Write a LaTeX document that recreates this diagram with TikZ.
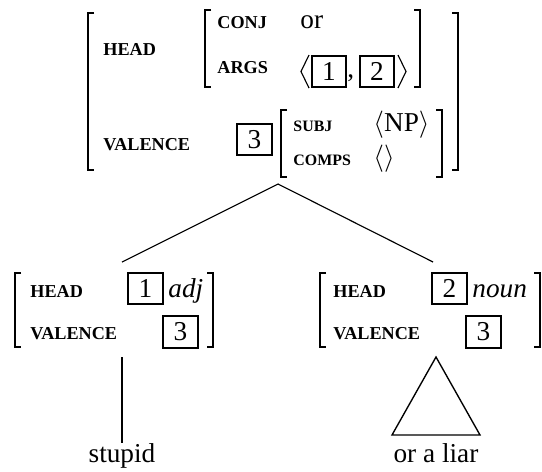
\documentclass[tikz,border=0pt]{standalone}
\usepackage{fontspec}
\setmainfont{Liberation Serif}

\tikzset{
  feat/.style={font=\fontsize{8}{9}\selectfont\bfseries, anchor=base west, inner sep=0pt},
  smallfeat/.style={font=\fontsize{7}{8}\selectfont\bfseries, anchor=base west, inner sep=0pt},
  word/.style={font=\fontsize{12}{14}\selectfont, anchor=base west, inner sep=0pt},
  tag/.style={draw, line width=0.9pt, minimum width=15pt, minimum height=14pt, inner sep=0pt, font=\fontsize{12}{14}\selectfont},
  brk/.style={line width=0.7pt}
}

\begin{document}
\begin{tikzpicture}[x=0.44pt,y=-0.44pt]
\useasboundingbox (0,0) rectangle (542,471);
%\draw[step=20,gray,very thin] (0,0) grid (542,471); %background grid

% mother
\draw[brk] (94,13) -- (88,13) -- (88,170) -- (94,170);
\draw[brk] (452,13) -- (458,13) -- (458,170) -- (452,170);
\node[feat] (headM) at (103,55) {HEAD};
\node[feat] (valM) at (103,150) {VALENCE};
\draw[brk] (211,10) -- (205,10) -- (205,87) -- (211,87);
\draw[brk] (414,10) -- (420,10) -- (420,87) -- (414,87);
\node[feat] (conj) at (217,28) {CONJ};
\node[word] (or) at (300,28) {or};
\node[feat] (args) at (217,73) {ARGS};
\draw[line width=0.5pt] (309,55) -- (301,71.5) -- (309,88);
\node[tag] (argA) at (329,71.5) {1};
\node[word] (comma) at (347,77) {,};
\node[tag] (argB) at (377,71.5) {2};
\draw[line width=0.5pt] (398,55) -- (406,71.5) -- (398,88);
\node[tag] (valTag) at (254.5,139.5) {3};
\draw[brk] (287,110) -- (281,110) -- (281,177) -- (287,177);
\draw[brk] (436,110) -- (442,110) -- (442,177) -- (436,177);
\node[smallfeat] (subj) at (293,131) {SUBJ};
\node[word] (np) at (373,131) {$\langle$NP$\rangle$};
\node[smallfeat] (comps) at (293,165) {COMPS};
\node[word] (empty) at (373,165) {$\langle\rangle$};

% branches
\coordinate (mother) at (278,184);
\coordinate (dtrA) at (122,262);
\coordinate (dtrB) at (433,262);
\draw[line width=0.5pt] (dtrA) -- (mother) -- (dtrB);

% left daughter
\draw[brk] (21,273) -- (15,273) -- (15,347) -- (21,347);
\draw[brk] (207,273) -- (213,273) -- (213,347) -- (207,347);
\node[feat] (headA) at (30,297) {HEAD};
\node[tag] (tagA) at (145.5,288.5) {1};
\node[word] (adj) at (168,297) {\textit{adj}};
\node[feat] (valA) at (30,339) {VALENCE};
\node[tag] (valTagA) at (180.5,332) {3};
\coordinate (lexA) at (122,357);
\node[word, anchor=base] (stupid) at (122,462) {stupid};
\draw[line width=0.9pt] (lexA) -- (stupid.north);

% right daughter
\draw[brk] (326,273) -- (320,273) -- (320,347) -- (326,347);
\draw[brk] (534,273) -- (540,273) -- (540,347) -- (534,347);
\node[feat] (headB) at (333,297) {HEAD};
\node[tag] (tagB) at (449.5,288.5) {2};
\node[word] (noun) at (472,297) {\textit{noun}};
\node[feat] (valB) at (333,339) {VALENCE};
\node[tag] (valTagB) at (483.5,332) {3};
\coordinate (lexB) at (436,357);
\node[word, anchor=base] (liar) at (436,462) {or a liar};
\draw[line width=0.6pt] (lexB) -- (480,435) -- (392,435) -- cycle;
\end{tikzpicture}
\end{document}
